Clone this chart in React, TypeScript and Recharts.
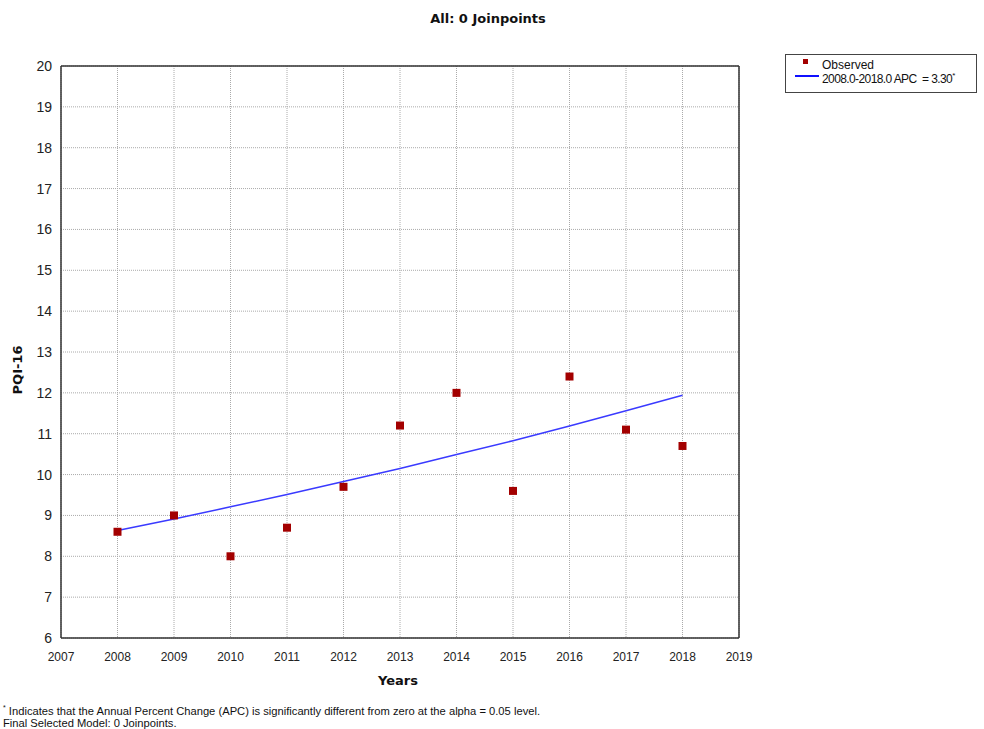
import React from "react";
import {
  ComposedChart,
  Line,
  Scatter,
  XAxis,
  YAxis,
  CartesianGrid,
  ReferenceLine,
} from "recharts";

const years = [2008, 2009, 2010, 2011, 2012, 2013, 2014, 2015, 2016, 2017, 2018];
const observed = [8.6, 9.0, 8.0, 8.7, 9.7, 11.2, 12.0, 9.6, 12.4, 11.1, 10.7];
const fitted = [8.63, 8.91, 9.21, 9.51, 9.83, 10.15, 10.49, 10.83, 11.19, 11.56, 11.94];
const xTicks = [2007, 2008, 2009, 2010, 2011, 2012, 2013, 2014, 2015, 2016, 2017, 2018, 2019];
const yTicks = [6, 7, 8, 9, 10, 11, 12, 13, 14, 15, 16, 17, 18, 19, 20];

const data = years.map((y, i) => ({ year: y, observed: observed[i], fit: fitted[i] }));

const tickFont = { fontFamily: "Liberation Sans, Arial, sans-serif", fontSize: 12, fill: "#222" };
const boldFont = "DejaVu Sans, Verdana, sans-serif";

export default function App() {
  return (
    <div style={{ position: "absolute", left: 0, top: 0, width: 984, height: 729, background: "#fff" }}>
      <div
        style={{
          position: "absolute",
          left: 0,
          width: 976,
          top: 11,
          textAlign: "center",
          fontFamily: boldFont,
          fontWeight: "bold",
          fontSize: 13,
          color: "#111",
        }}
      >
        All: 0 Joinpoints
      </div>
      <ComposedChart
        width={984}
        height={729}
        data={data}
        margin={{ top: 66, right: 245, bottom: 61, left: 21 }}
        style={{ position: "absolute", left: 0, top: 0 }}
      >
        <CartesianGrid stroke="#aaa" strokeDasharray="1 1" />
        <XAxis
          dataKey="year"
          type="number"
          domain={[2007, 2019]}
          ticks={xTicks}
          allowDataOverflow
          tickLine={false}
          axisLine={{ stroke: "#333", strokeWidth: 1.5 }}
          tick={tickFont}
          height={30}
          tickMargin={8}
        />
        <YAxis
          type="number"
          domain={[6, 20]}
          ticks={yTicks}
          allowDataOverflow
          tickLine={false}
          axisLine={{ stroke: "#333", strokeWidth: 1.5 }}
          tick={{ ...tickFont, fontSize: 14 }}
          width={40}
          tickMargin={3}
        />
        <ReferenceLine y={20} stroke="#333" strokeWidth={1.5} />
        <ReferenceLine x={2019} stroke="#333" strokeWidth={1.5} />
        <Line
          dataKey="fit"
          stroke="#3a3aff"
          strokeWidth={1.5}
          dot={false}
          activeDot={false}
          isAnimationActive={false}
          type="linear"
        />
        <Scatter dataKey="observed" fill="#a30000" shape="square" isAnimationActive={false} />
      </ComposedChart>
      <div
        style={{
          position: "absolute",
          left: 17,
          top: 370,
          transform: "translate(-50%, -50%) rotate(-90deg)",
          fontFamily: boldFont,
          fontWeight: "bold",
          fontSize: 13,
          color: "#111",
          whiteSpace: "nowrap",
        }}
      >
        PQI-16
      </div>
      <div
        style={{
          position: "absolute",
          left: 398,
          top: 680,
          transform: "translate(-50%, -50%)",
          fontFamily: boldFont,
          fontWeight: "bold",
          fontSize: 13,
          color: "#111",
        }}
      >
        Years
      </div>
      <div
        style={{
          position: "absolute",
          left: 785,
          top: 54,
          width: 192,
          height: 39,
          border: "1px solid #444",
          boxSizing: "border-box",
          fontFamily: "Liberation Sans, Arial, sans-serif",
          fontSize: 12,
          color: "#111",
        }}
      >
        <div style={{ position: "absolute", left: 17, top: 4, width: 5, height: 5, background: "#a30000" }} />
        <div style={{ position: "absolute", left: 36, top: 3, lineHeight: "14px" }}>Observed</div>
        <div style={{ position: "absolute", left: 9, top: 20, width: 24, height: 2, background: "#1010ff" }} />
        <div style={{ position: "absolute", left: 36, top: 14, lineHeight: "14px", whiteSpace: "nowrap", letterSpacing: -0.6 }}>
          2008.0-2018.0 APC &nbsp;= 3.30<sup style={{ fontSize: 8 }}>*</sup>
        </div>
      </div>
      <div
        style={{
          position: "absolute",
          left: 3,
          top: 702,
          fontFamily: "Liberation Sans, Arial, sans-serif",
          fontSize: 11.2,
          lineHeight: "12px",
          color: "#111",
          whiteSpace: "nowrap",
        }}
      >
        <div>
          <sup style={{ fontSize: 7 }}>*</sup> Indicates that the Annual Percent Change (APC) is significantly different from zero at the alpha = 0.05 level.
        </div>
        <div>Final Selected Model: 0 Joinpoints.</div>
      </div>
    </div>
  );
}
